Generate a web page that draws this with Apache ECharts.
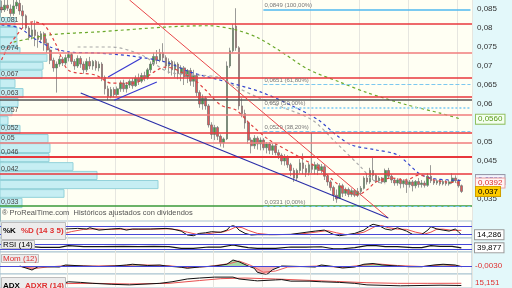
<!DOCTYPE html>
<html><head><meta charset="utf-8">
<script src="https://cdn.jsdelivr.net/npm/echarts@6/dist/echarts.min.js"></script>
<style>html,body{margin:0;padding:0;background:#fff}#c{width:512px;height:288px}</style>
</head><body><div id="c"></div>
<script>
// prices are in units of 0.0001
const categories = Array.from({length:155},(_,i)=>String(i));
const candles = [
[855,848,840,872],[848,860,842,874],[860,852,845,874],[850,838,830,862],[838,858,832,874],
[858,868,850,874],[865,845,835,874],[845,832,800,860],[832,800,795,836],[800,775,768,805],
[778,795,770,815],[795,780,752,820],[780,770,748,790],[770,785,760,792],[785,760,740,790],
[760,742,735,772],[742,715,705,748],[715,695,685,722],[695,705,630,712],[705,718,698,726],
[718,708,700,724],[708,722,702,730],[722,730,712,738],[730,712,705,735],[712,700,690,718],
[700,720,695,728],[720,705,695,726],[705,690,680,712],[690,712,684,720],[712,700,692,724],
[700,712,690,716],[712,695,688,716],[695,705,686,712],[705,670,660,710],[670,640,625,675],
[640,620,610,648],[620,638,615,645],[638,625,618,644],[625,640,620,646],[640,655,632,662],
[655,640,632,664],[640,650,630,658],[650,660,642,665],[660,648,640,668],[648,668,645,675],
[668,660,650,680],[660,675,655,682],[675,668,660,685],[668,690,664,695],[690,705,682,712],
[705,725,700,735],[725,715,705,742],[715,735,710,745],[735,722,712,760],[722,700,690,728],
[700,712,680,720],[712,690,675,716],[690,705,670,712],[705,680,665,710],[680,695,660,702],
[695,672,650,700],[672,688,655,692],[688,660,648,695],[660,675,645,690],[675,630,620,680],
[630,600,590,636],[600,615,585,625],[615,595,585,620],[595,545,538,600],[545,520,508,552],
[520,538,505,545],[538,515,505,542],[515,498,488,520],[498,508,485,512],[508,700,505,712],
[700,740,695,748],[740,800,735,810],[805,748,740,852],[748,595,585,752],[595,575,565,615],
[575,550,535,585],[550,505,495,556],[505,490,470,512],[490,510,482,518],[510,495,480,515],
[495,505,478,512],[505,485,478,510],[485,495,470,500],[495,478,468,500],[478,490,466,496],
[490,472,465,495],[472,465,455,480],[465,450,440,470],[450,460,438,468],[460,440,432,465],
[440,425,410,445],[425,405,395,432],[405,425,398,430],[425,445,418,455],[445,430,415,470],
[430,420,408,440],[420,440,412,445],[440,428,418,524],[428,440,415,448],[440,425,413,445],
[425,435,418,442],[435,410,400,440],[410,395,385,415],[395,380,372,400],[380,360,345,385],
[360,350,340,375],[352,385,350,392],[385,365,355,390],[365,375,358,380],[375,362,355,380],
[362,372,356,378],[372,360,355,376],[360,370,355,379],[370,378,360,384],[378,405,375,410],
[405,395,388,418],[395,425,390,432],[425,412,400,460],[412,398,392,415],[398,405,392,410],
[405,395,390,408],[395,425,392,430],[425,410,405,432],[410,400,392,415],[400,392,385,405],
[392,400,385,405],[400,390,378,405],[390,398,380,402],[398,388,366,404],[388,395,380,400],
[395,385,370,400],[385,396,378,400],[396,388,380,405],[388,392,380,400],[392,386,380,398],
[386,410,382,418],[410,398,392,439],[398,392,387,402],[392,398,387,402],[398,390,385,402],
[390,396,386,400],[396,390,385,400],[390,395,385,400],[395,405,390,418],[405,398,392,412],
[398,385,380,402],[385,370,366,388]
];
const greenMA = [[4,763],[16,782],[32,790],[55,803],[68,806],[77,795],[84,775],[91,742],[101,690],[111,658],[120,630],[133,598],[144,576],[151,560]];
const blueMA = [[0,808],[6,800],[10,776],[16,750],[22,737],[32,734],[43,726],[54,710],[62,684],[74,658],[85,632],[95,597],[104,558],[110,518],[115,492],[123,479],[130,466],[137,418],[141,405],[147,400],[151,399]];
const grayMA = [[25,750],[36,750],[46,729],[55,684],[71,671],[77,645],[84,618],[92,592],[102,558],[110,497],[118,434],[122,400],[126,390]];
const redMA = [[0,716],[3,760],[10,816],[14,808],[18,755],[22,689],[31,676],[36,655],[43,655],[54,697],[62,671],[67,637],[72,597],[77,584],[82,545],[88,505],[98,460],[105,426],[112,379],[117,361],[120,374],[123,395],[128,405],[133,400],[137,413],[142,400],[146,395],[151,392]];
// trend lines [index, price]
const redTrend = [[42,874],[127,300]];
const blueChannel = [[26,629],[127,300]];
const wedgeUpper = [[35,671],[46,721]];
const wedgeLower = [[37,610],[51,658]];
// horizontal levels
const levelPrices = [810,735,668,618,571,524,498,461,416];
const levelLabels = ['0,081','0,074','0,067','0,063','0,057','0,052','0,05','0,046','0,042'];
const grayLevel = 611;
const greenLevel = 331, greenLabel = '0,033';
const fibPrices = [849,651,590,529,331];
const fibLabels = ['0,0849 (100,00%)','0,0651 (61,80%)','0,059 (50,00%)','0,0529 (38,20%)','0,0331 (0,00%)'];
const fibStart = 86;
// volume profile rows: [volume, low, high]
const profile = [[22,326,353],[64,353,376],[158,376,400],[97,400,424],[73,424,447],[49,447,471],[50,471,497],[48,497,521],[20,521,545],[8,545,568],[12,568,592],[18,592,616],[23,616,642],[15,642,666],[42,666,690],[43,690,711],[47,711,732],[20,732,750],[17,750,776],[17,776,803],[15,803,829]];
const priceTicks = [350,450,500,600,650,700,750,800,850];
const lastPrice = 370, lastPriceLabel = '0,037';
const greenTag = 560, greenTagLabel = '0,0560';
const redTag = 392, redTagLabel = '0,0392';
const blueTag = 401, blueTagLabel = '0,0399';
// indicators
const stochK = [[10,30],[14,17],[19,17],[21,61],[25,66],[28,61],[29,71],[32,52],[36,61],[39,66],[41,52],[43,61],[49,61],[54,66],[56,61],[59,44],[61,12],[63,6],[65,25],[67,30],[69,39],[72,34],[74,52],[75,80],[76,88],[77,80],[78,52],[80,25],[82,12],[84,15],[90,15],[95,17],[100,34],[103,44],[106,52],[109,17],[111,6],[114,17],[116,25],[119,52],[121,88],[122,100],[124,88],[126,61],[128,52],[130,71],[133,44],[135,17],[138,17],[140,52],[141,80],[143,61],[145,52],[147,44],[149,61],[150,40],[151,14.286]];
const stochD = [[10,35],[15,22],[20,20],[23,40],[27,58],[31,62],[35,58],[40,60],[45,58],[50,60],[55,62],[58,55],[61,35],[64,18],[67,20],[70,30],[73,38],[75,55],[77,78],[79,72],[81,50],[84,25],[88,15],[95,16],[100,25],[104,38],[107,48],[110,30],[113,15],[116,18],[119,35],[121,60],[123,85],[125,88],[127,72],[130,60],[133,58],[136,35],[139,20],[141,35],[143,60],[145,60],[148,50],[151,50]];
const rsi = [[10,50],[13,44],[19,44],[22,58],[27,50],[33,51],[40,52],[45,50],[50,53],[55,51],[59,36],[63,36],[68,47],[72,46],[76,64],[78,55],[81,41],[84,36],[90,36],[95,47],[100,46],[105,49],[109,32],[112,32],[116,42],[120,58],[123,58],[126,50],[130,50],[135,42],[138,42],[141,58],[144,52],[148,52],[151,39.877]];
const mom = [[6,0],[10,-0.016],[12,-0.003],[14,-0.003],[19,-0.004],[21,0.004],[27,0],[32,-0.002],[37,0],[41,0.004],[43,0.007],[48,0.002],[52,0.004],[54,0],[59,-0.005],[61,-0.009],[65,-0.004],[70,0],[74,0.007],[76,0.024],[78,0.017],[81,0],[83,-0.009],[84,-0.025],[87,-0.035],[89,-0.015],[92,0],[98,-0.002],[103,-0.004],[105,0.004],[109,-0.002],[112,-0.008],[116,-0.004],[119,0.007],[122,0.010],[125,0.004],[130,0],[134,-0.003],[138,-0.003],[142,0.004],[145,0.007],[149,0.004],[151,-0.003]];
const momSignal = [[6,-0.002],[11,-0.010],[15,-0.004],[22,0.002],[30,0],[40,0.002],[45,0.005],[55,0.001],[61,-0.006],[68,-0.002],[75,0.010],[78,0.020],[82,0.002],[86,-0.025],[90,-0.020],[94,-0.004],[104,0],[112,-0.005],[120,0.005],[124,0.008],[130,0.002],[138,-0.002],[145,0.005],[151,-0.001]];
const adx = [[19,12],[22,20],[26,18],[30,15],[36,12],[42,10],[52,15],[56,20],[61,29],[65,32],[70,35],[76,35],[78,29],[83,24],[84,23],[90,26],[92,27],[95,22],[101,22],[105,20],[111,18],[116,15],[120,10],[131,7],[144,9],[151,8]];
const adxr = [[19,14],[30,15],[42,13],[55,15],[65,24],[72,30],[80,32],[90,29],[100,25],[110,21],[120,17],[130,15],[140,15],[151,15.151]];

const FONT = 'Liberation Sans';
const fmtPrice = v => String(+(v/10000).toFixed(4)).replace('.', ',');
const hl = (val, color, width, type, label) => ({
  yAxis: val, lineStyle:{color, width, type},
  label:{show: !!label, formatter: label||'', position:'insideStartTop', distance:1, color:'#444', fontSize:7, fontFamily:FONT}
});

const levelLines = levelPrices.map((p,i)=>{
  const pink = (i===1||i===6||i===4);
  return hl(p, pink ? '#f07c7c' : '#e8373c', i===7 ? 2 : 1.5, 'solid', levelLabels[i]);
});
levelLines.push(hl(grayLevel,'#555',1.5,'solid',''));
levelLines.push(hl(greenLevel,'#3a9a3a',1.5,'solid',greenLabel));
const fibStyles = [['#4fb8ef','solid',1.5],['#7cc8ef','dashed',1],['#9ad6f2','dotted',2],['#7cc8ef','dashed',1],['#7cc8ef','dashed',1]];
const fibLines = fibPrices.map((p,i)=>[
  {coord:[fibStart,p], lineStyle:{color:fibStyles[i][0], type:fibStyles[i][1], width:fibStyles[i][2]},
   label:{show:true, formatter:fibLabels[i], position:'insideStartTop', distance:1, color:'#777', fontSize:6, fontFamily:FONT}},
  {coord:[categories.length-1,p]}
]);
const tag = (val, text, color, bg, border) => ({
  yAxis: val, lineStyle:{color:'rgba(0,0,0,0)', width:0},
  label:{show:true, position:'end', distance:4, formatter:text, color, backgroundColor:bg, borderColor:border, borderWidth:1,
    padding:[1,2,0,2], fontSize:8, fontFamily:FONT}
});

const splitInt = (i) => i >= 22 && (i-22) % 16 === 0;
const catAxis = (g) => ({type:'category', gridIndex:g, data:categories, boundaryGap:true,
  axisLine:{show:false}, axisTick:{show:false}, axisLabel:{show:false},
  splitLine:{show:true, interval:splitInt, lineStyle:{color:'#e6e6e0', width:1}}});
const dashedLine = (data, color, x, y) => ({type:'line', data, xAxisIndex:x, yAxisIndex:y, symbol:'none', smooth:0.3,
  lineStyle:{color, width:1.2, type:[3,3]}, z:4, silent:true});
const solidLine = (data, color, x, y, w) => ({type:'line', data, xAxisIndex:x, yAxisIndex:y, symbol:'none',
  lineStyle:{color, width:w||1}, z:5, silent:true, clip:false});

const subGrid = (top, height) => ({left:0, right:40, top, height, show:true, backgroundColor:'#fffffb', borderColor:'#a9c3d0', borderWidth:1});

const option = {
  animation:false,
  backgroundColor:'#e3f8fa',
  textStyle:{fontFamily:FONT},
  title:[
    {text:'® ProRealTime.com  Históricos ajustados con dividendos', left:2, top:209, padding:0,
     textStyle:{fontSize:7.5, fontWeight:'normal', color:'#555', fontFamily:FONT}},
    {text:'{k|%K} {d|%D (14 3 5)}', left:1, top:222, padding:[0,2], backgroundColor:'#ececec', borderColor:'#bdbdbd', borderWidth:1,
     textStyle:{rich:{k:{color:'#000',fontSize:8,fontWeight:'bold',fontFamily:FONT,lineHeight:9}, d:{color:'#e03030',fontSize:8,fontFamily:FONT,lineHeight:9}}}},
    {text:'RSI (14)', left:1, top:240, padding:[0,2], backgroundColor:'#ececec', borderColor:'#bdbdbd', borderWidth:1,
     textStyle:{color:'#000',fontSize:8,fontWeight:'normal',fontFamily:FONT,lineHeight:9}},
    {text:'Mom (12)', left:1, top:254, padding:[0,2], backgroundColor:'#ececec', borderColor:'#bdbdbd', borderWidth:1,
     textStyle:{color:'#e03030',fontSize:8,fontWeight:'normal',fontFamily:FONT,lineHeight:9}},
    {text:'{k|ADX} {d|ADXR (14)}', left:1, top:277, padding:[0,2], backgroundColor:'#ececec', borderColor:'#bdbdbd', borderWidth:1,
     textStyle:{rich:{k:{color:'#000',fontSize:8,fontFamily:FONT,lineHeight:9}, d:{color:'#e03030',fontSize:8,fontFamily:FONT,lineHeight:9}}}}
  ],
  grid:[
    {left:0, right:40, top:0, height:221, show:true, backgroundColor:'#fffff3', borderWidth:0},
    subGrid(221,17), subGrid(238,14), subGrid(252,22), subGrid(274,16.5)
  ],
  xAxis:[
    catAxis(0),
    {type:'value', gridIndex:0, min:0, max:472, show:false},
    catAxis(1), catAxis(2), catAxis(3), catAxis(4)
  ],
  yAxis:[
    {type:'value', gridIndex:0, position:'right', min:292.1, max:873.7, scale:true,
     axisLine:{show:true, lineStyle:{color:'#9bb'}},
     axisTick:{show:true, length:4, customValues:priceTicks.concat([400,550]), lineStyle:{color:'#555'}},
     axisLabel:{show:true, customValues:priceTicks, formatter:fmtPrice, fontSize:8, color:'#333', margin:5, fontFamily:FONT},
     splitLine:{show:false}},
    {type:'value', gridIndex:1, min:-12.8, max:126.7, show:false},
    {type:'value', gridIndex:2, min:4.5, max:123.6, show:false},
    {type:'value', gridIndex:3, min:-0.032, max:0.056, show:false},
    {type:'value', gridIndex:4, min:0, max:45, show:false}
  ],
  visualMap:[{type:'piecewise', show:false, seriesIndex:13, dimension:1,
    pieces:[{gte:-0.1, lt:0, color:'#f3a3a3'},{gte:0, lte:0.1, color:'#8fd08f'}]}],
  series:[
    {type:'custom', xAxisIndex:1, yAxisIndex:0, data:profile, z:1, silent:true,
     renderItem:(params, api)=>{
       const a = api.coord([0, api.value(2)]);
       const b = api.coord([api.value(0), api.value(1)]);
       return {type:'rect', shape:{x:a[0], y:a[1]+0.5, width:b[0]-a[0], height:b[1]-a[1]-1},
         style:{fill:'#c6eef3', stroke:'#93d2da', lineWidth:1}};
     }},
    {type:'candlestick', xAxisIndex:0, yAxisIndex:0, data:candles, barWidth:2.2, z:3, silent:true,
     itemStyle:{color:'#3fa63f', color0:'#e15858', borderColor:'#707070', borderColor0:'#707070', borderWidth:0.7},
     markLine:{silent:true, symbol:'none', animation:false,
       data: levelLines.concat(fibLines).concat([
         tag(greenTag, greenTagLabel, '#5a9a1a', '#f4fff0', '#8fbf5f'),
         tag(blueTag, blueTagLabel, '#3344cc', '#f4f6ff', '#99a'),
         tag(redTag, redTagLabel, '#e03030', '#fff4f4', '#e8a0a0'),
         tag(lastPrice, lastPriceLabel, '#000', '#ffcc00', '#d0a000')
       ])}},
    dashedLine(greenMA, '#6aa82a', 0, 0),
    dashedLine(blueMA, '#3344cc', 0, 0),
    dashedLine(grayMA, '#aaaaaa', 0, 0),
    dashedLine(redMA, '#e04040', 0, 0),
    solidLine(redTrend, '#e8474a', 0, 0, 1),
    solidLine(blueChannel, '#2b2fa8', 0, 0, 1.2),
    solidLine(wedgeUpper, '#3a3ad0', 0, 0, 1.2),
    solidLine(wedgeLower, '#3a3ad0', 0, 0, 1.2),
    // stochastic
    {type:'line', xAxisIndex:2, yAxisIndex:1, data:stochD, symbol:'none', lineStyle:{color:'#e85050', width:1}, silent:true,
     markLine:{silent:true, symbol:'none', data:[
       {yAxis:80, lineStyle:{color:'#4646d8', width:1, type:'solid'}, label:{show:false}},
       {yAxis:20, lineStyle:{color:'#4646d8', width:1, type:'solid'}, label:{show:false}},
       {yAxis:14.286, lineStyle:{color:'rgba(0,0,0,0)', width:0}, label:{show:true, position:'end', distance:3, formatter:'14,286', color:'#000', backgroundColor:'#fff', borderColor:'#999', borderWidth:1, padding:[1,2,0,2], fontSize:8, fontFamily:FONT}}
     ]}},
    {type:'line', xAxisIndex:2, yAxisIndex:1, data:stochK, symbol:'none', lineStyle:{color:'#111', width:1}, silent:true},
    // RSI
    {type:'line', xAxisIndex:3, yAxisIndex:2, data:rsi, symbol:'none', lineStyle:{color:'#111', width:1.2}, silent:true,
     markLine:{silent:true, symbol:'none', data:[
       {yAxis:70, lineStyle:{color:'#4646d8', width:1, type:'solid'}, label:{show:false}},
       {yAxis:30, lineStyle:{color:'#4646d8', width:1, type:'solid'}, label:{show:false}},
       {yAxis:39.877, lineStyle:{color:'rgba(0,0,0,0)', width:0}, label:{show:true, position:'end', distance:3, formatter:'39,877', color:'#000', backgroundColor:'#fff', borderColor:'#999', borderWidth:1, padding:[1,2,0,2], fontSize:8, fontFamily:FONT}}
     ]}},
    // Mom fill (series index 13)
    {type:'line', xAxisIndex:4, yAxisIndex:3, data:mom, symbol:'none', lineStyle:{width:0}, areaStyle:{opacity:0.8}, silent:true, z:1},
    {type:'line', xAxisIndex:4, yAxisIndex:3, data:momSignal, symbol:'none', lineStyle:{color:'#e86060', width:1}, silent:true},
    {type:'line', xAxisIndex:4, yAxisIndex:3, data:mom, symbol:'none', lineStyle:{color:'#111', width:1}, silent:true,
     markLine:{silent:true, symbol:'none', data:[
       {yAxis:0, lineStyle:{color:'#4646d8', width:1, type:'solid'}, label:{show:false}},
       {yAxis:-0.003, lineStyle:{color:'rgba(0,0,0,0)', width:0}, label:{show:true, position:'end', distance:3, formatter:'-0,0030', color:'#e03030', fontSize:8, fontFamily:FONT}}
     ]}},
    // ADX
    {type:'line', xAxisIndex:5, yAxisIndex:4, data:adxr, symbol:'none', lineStyle:{color:'#e85050', width:1}, silent:true,
     markLine:{silent:true, symbol:'none', data:[
       {yAxis:15.151, lineStyle:{color:'rgba(0,0,0,0)', width:0}, label:{show:true, position:'end', distance:3, formatter:'15,151', color:'#e03030', fontSize:8, fontFamily:FONT}}
     ]}},
    {type:'line', xAxisIndex:5, yAxisIndex:4, data:adx, symbol:'none', lineStyle:{color:'#111', width:1}, silent:true}
  ]
};
const chart = echarts.init(document.getElementById('c'), null, {renderer:'canvas'});
chart.setOption(option);
</script></body></html>
